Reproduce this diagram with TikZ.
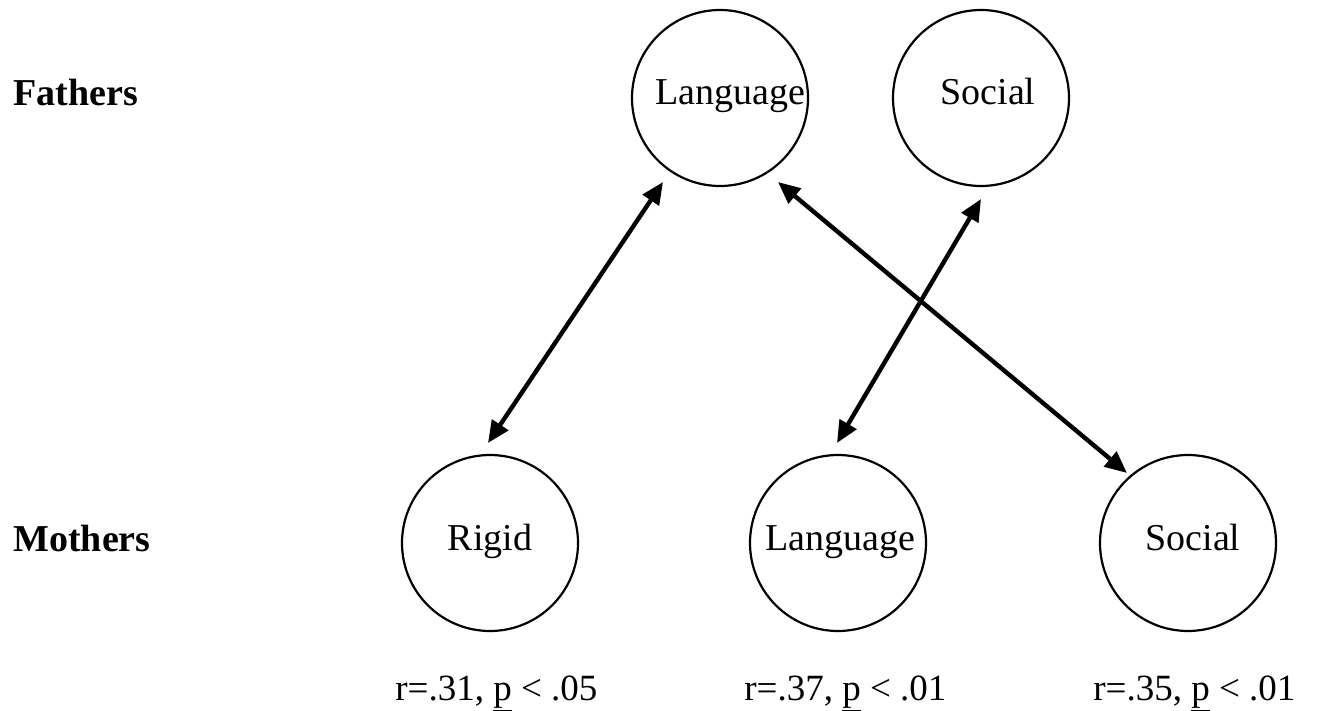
\documentclass[tikz,border=0pt]{standalone}
\usepackage{fontspec}
\setmainfont{Liberation Serif}
\usetikzlibrary{arrows.meta}
\begin{document}
\begin{tikzpicture}[x=0.5pt,y=-0.5pt,
  circ/.style={draw=black, line width=1.1pt, circle, minimum size=88pt, inner sep=0pt},
  lab/.style={anchor=base, inner sep=0pt, font=\fontsize{19}{22}\selectfont},
  rowlab/.style={anchor=base west, inner sep=0pt, font=\fontsize{19}{22}\selectfont\bfseries},
  stat/.style={anchor=base west, inner sep=0pt, font=\fontsize{18.5}{22}\selectfont},
  corr/.style={line width=2.2pt, {Triangle[length=11pt,width=9.5pt]}-{Triangle[length=11pt,width=9.5pt]}}]
\useasboundingbox (0,0) rectangle (1318,711);
% row labels
\node[rowlab] (fathers) at (13,106) {Fathers};
\node[rowlab] (mothers) at (13,551) {Mothers};
% circles
\node[circ] (fl) at (720,98) {};
\node[circ] (fs) at (981,98) {};
\node[circ] (mr) at (490,543) {};
\node[circ] (ml) at (838,543) {};
\node[circ] (ms) at (1188,543) {};
% circle texts
\node[lab] (flt) at (730,105) {Language};
\node[lab] (fst) at (988,105) {Social};
\node[lab] (mrt) at (490,550) {Rigid};
\node[lab] (mlt) at (840,550) {Language};
\node[lab] (mst) at (1193,550) {Social};
% arrow end points
\coordinate (a1t) at (663,182);
\coordinate (a1b) at (488,443);
\coordinate (a2t) at (981,199);
\coordinate (a2b) at (837,443);
\coordinate (a3t) at (778,182);
\coordinate (a3b) at (1127,473);
\draw[corr] (a1t) -- (a1b);
\draw[corr] (a2t) -- (a2b);
\draw[corr] (a3t) -- (a3b);
% statistics
\node[stat] (s1) at (395,700) {r=.31, \underline{p} < .05};
\node[stat] (s2) at (744,700) {r=.37, \underline{p} < .01};
\node[stat] (s3) at (1093,700) {r=.35, \underline{p} < .01};
\end{tikzpicture}
\end{document}
